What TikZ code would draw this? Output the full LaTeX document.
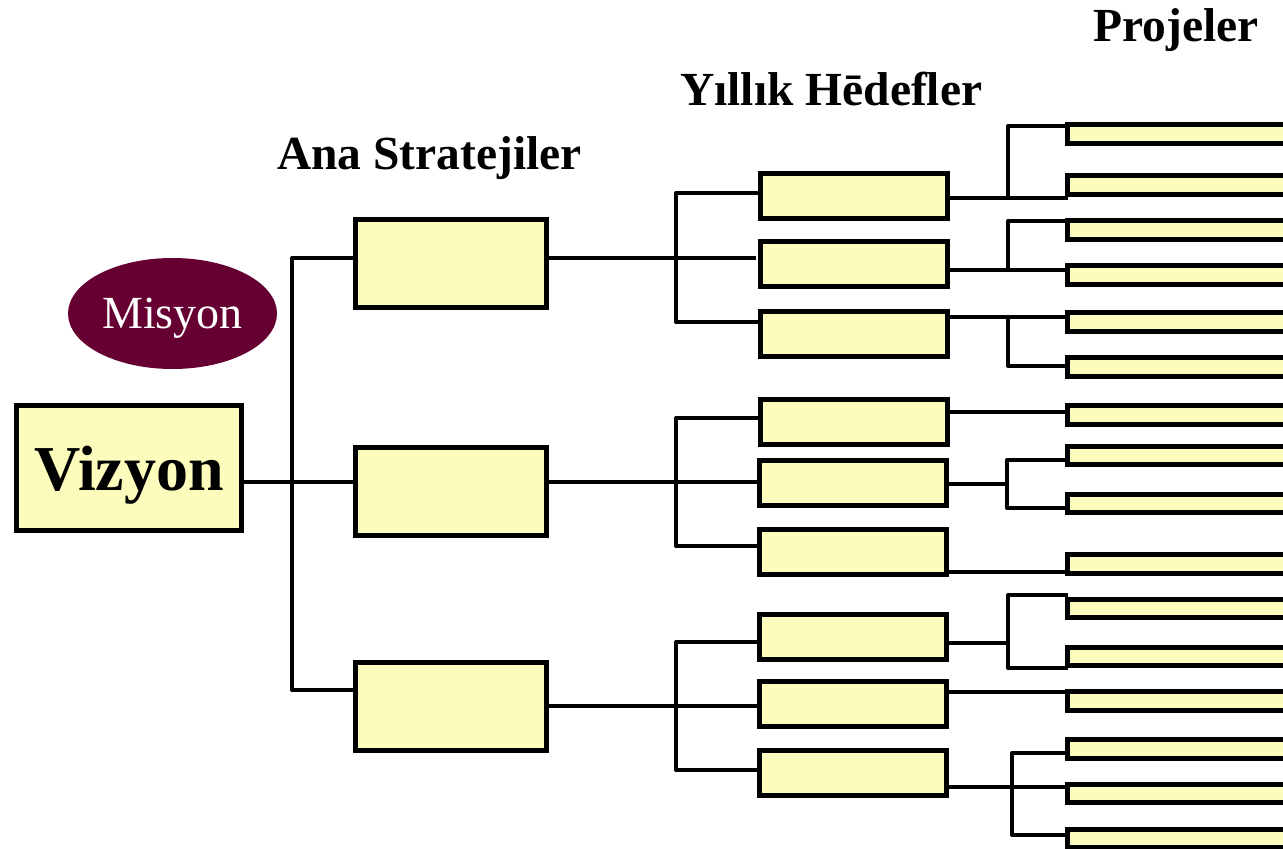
\documentclass[tikz,border=0pt]{standalone}
\usepackage{fontspec}
\setmainfont{Liberation Serif}
\usepackage{tikz}
\usetikzlibrary{shapes.geometric}
\definecolor{sari}{RGB}{252,252,188}
\definecolor{bordo}{RGB}{102,0,51}
\tikzstyle{vizyon} = [rectangle, minimum width=225pt, minimum height=125pt, inner sep=0pt, outer sep=0pt, text depth=0pt, draw=black, line width=5pt, fill=sari, font=\fontsize{64}{64}\selectfont\bfseries]
\tikzstyle{misyon} = [ellipse, minimum width=209pt, minimum height=111pt, inner sep=0pt, outer sep=0pt, text depth=0pt, fill=bordo, text=white, font=\fontsize{46}{46}\selectfont]
\tikzstyle{strateji} = [rectangle, minimum width=191pt, minimum height=88pt, inner sep=0pt, outer sep=0pt, draw=black, line width=5pt, fill=sari]
\tikzstyle{hedef} = [rectangle, minimum width=187pt, minimum height=45pt, inner sep=0pt, outer sep=0pt, draw=black, line width=5pt, fill=sari]
\tikzstyle{proje} = [rectangle, anchor=west, minimum width=260pt, minimum height=18.5pt, inner sep=0pt, outer sep=0pt, draw=black, line width=5pt, fill=sari]
\tikzstyle{baslik} = [anchor=base west, inner sep=0pt, font=\fontsize{47.5}{47.5}\selectfont\bfseries]
\tikzstyle{link} = [line width=4pt, line join=round]

\begin{document}
\begin{tikzpicture}[x=1pt, y=-1pt]
	\clip (0,0) rectangle (1283,849);
	\node (t1) [baslik] at (277,169) {Ana Stratejiler};
	\node (t2) [baslik] at (680,105) {Yıllık H\=edefler};
	\node (t3) [baslik] at (1093,41) {Projeler};
	
	\node (mis) [misyon] at (172.5,313.5) {Misyon};
	\node (viz) [vizyon] at (129,468) {Vizyon};
	
	\node (st1) [strateji] at (450.5,263) {};
	\node (st2) [strateji] at (450.5,491) {};
	\node (st3) [strateji] at (450.5,706) {};
	
	\node (h11) [hedef] at (854,196) {};
	\node (h12) [hedef] at (854,264) {};
	\node (h13) [hedef] at (854,334) {};
	\node (h21) [hedef] at (854,422) {};
	\node (h22) [hedef] at (853,483) {};
	\node (h23) [hedef] at (853,552) {};
	\node (h31) [hedef] at (853,637) {};
	\node (h32) [hedef] at (853,704) {};
	\node (h33) [hedef] at (853,773) {};
	
	\node (p1) [proje] at (1067.5,134) {};
	\node (p2) [proje] at (1067.5,185) {};
	\node (p3) [proje] at (1067.5,230) {};
	\node (p4) [proje] at (1067.5,275) {};
	\node (p5) [proje] at (1067.5,322) {};
	\node (p6) [proje] at (1067.5,367) {};
	\node (p7) [proje] at (1067.5,415) {};
	\node (p8) [proje] at (1067.5,455.5) {};
	\node (p9) [proje] at (1067.5,503.5) {};
	\node (p10) [proje] at (1067.5,564) {};
	\node (p11) [proje] at (1067.5,608.5) {};
	\node (p12) [proje] at (1067.5,656.5) {};
	\node (p13) [proje] at (1067.5,701) {};
	\node (p14) [proje] at (1067.5,749) {};
	\node (p15) [proje] at (1067.5,793.5) {};
	\node (p16) [proje] at (1067.5,838.5) {};
	
	% vizyon -> ana stratejiler
	\coordinate (k1) at (292,258);
	\coordinate (k2) at (292,482);
	\coordinate (k3) at (292,690);
	\draw [link] (k2 -| viz.east) -- (k2 -| st2.west);
	\draw [link] (k1 -| st1.west) -- (k1) -- (k3) -- (k3 -| st3.west);
	
	% ana stratejiler -> yillik hedefler
	\coordinate (a1) at (676,193);
	\coordinate (a2) at (676,258);
	\coordinate (a3) at (676,322);
	\draw [link] (a2 -| st1.east) -- (756,258);
	\draw [link] (a1 -| h11.west) -- (a1) -- (a3) -- (a3 -| h13.west);
	\coordinate (b1) at (676,418);
	\coordinate (b2) at (676,482);
	\coordinate (b3) at (676,546);
	\draw [link] (b2 -| st2.east) -- (b2 -| h22.west);
	\draw [link] (b1 -| h21.west) -- (b1) -- (b3) -- (b3 -| h23.west);
	\coordinate (c1) at (676,642);
	\coordinate (c2) at (676,706);
	\coordinate (c3) at (676,770);
	\draw [link] (c2 -| st3.east) -- (c2 -| h32.west);
	\draw [link] (c1 -| h31.west) -- (c1) -- (c3) -- (c3 -| h33.west);
	
	% yillik hedefler -> projeler
	\coordinate (d1) at (1008,126);
	\coordinate (d2) at (1008,198);
	\draw [link] (d2 -| h11.east) -- (d2 -| p2.west);
	\draw [link] (d1 -| p1.west) -- (d1) -- (d2);
	\coordinate (d3) at (1008,221);
	\coordinate (d4) at (1008,270);
	\draw [link] (d4 -| h12.east) -- (d4 -| p4.west);
	\draw [link] (d3 -| p3.west) -- (d3) -- (d4);
	\coordinate (d5) at (1008,317);
	\coordinate (d6) at (1008,366);
	\draw [link] (d5 -| h13.east) -- (d5 -| p5.west);
	\draw [link] (d5) -- (d6) -- (d6 -| p6.west);
	
	\coordinate (e1) at (1007,412);
	\draw [link] (e1 -| h21.east) -- (e1 -| p7.west);
	\coordinate (e2) at (1007,460);
	\coordinate (e3) at (1007,484);
	\coordinate (e4) at (1007,508);
	\draw [link] (e3 -| h22.east) -- (e3);
	\draw [link] (e2 -| p8.west) -- (e2) -- (e4) -- (e4 -| p9.west);
	\coordinate (e5) at (1007,572);
	\draw [link] (e5 -| h23.east) -- (e5 -| p10.west);
	
	\coordinate (f1) at (1008,595);
	\coordinate (f2) at (1008,643);
	\coordinate (f3) at (1008,668);
	\draw [link] (f2 -| h31.east) -- (f2);
	\draw [link] (f1 -| p11.west) -- (f1) -- (f3) -- (f3 -| p12.west);
	\coordinate (f4) at (1008,692);
	\draw [link] (f4 -| h32.east) -- (f4 -| p13.west);
	\coordinate (f5) at (1012,753);
	\coordinate (f6) at (1012,787);
	\coordinate (f7) at (1012,835);
	\draw [link] (f6 -| h33.east) -- (f6 -| p15.west);
	\draw [link] (f5 -| p14.west) -- (f5) -- (f7) -- (f7 -| p16.west);
\end{tikzpicture}
\end{document}
